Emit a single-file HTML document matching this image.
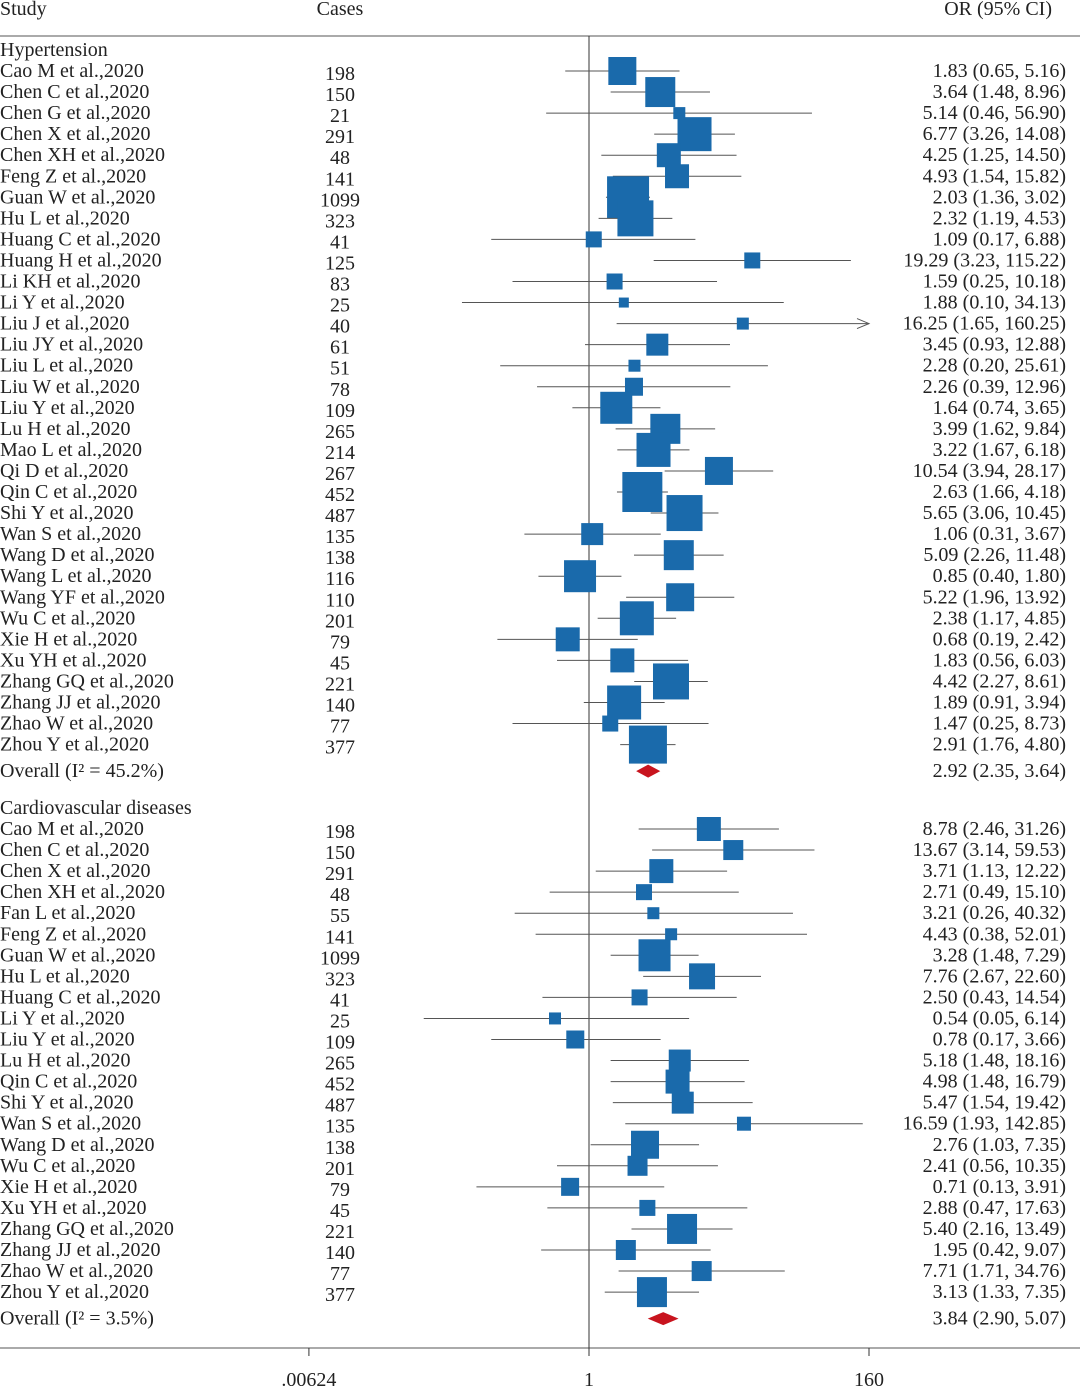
<!DOCTYPE html>
<html><head><meta charset="utf-8"><style>
body{margin:0;background:#fff}
svg text{font-family:"Liberation Serif",serif;font-size:20px;fill:#222}
</style></head><body>
<svg id="c" width="1080" height="1387"></svg>
<script>
const htStudies=["Cao M","Chen C","Chen G","Chen X","Chen XH","Feng Z","Guan W","Hu L","Huang C","Huang H","Li KH","Li Y","Liu J","Liu JY","Liu L","Liu W","Liu Y","Lu H","Mao L","Qi D","Qin C","Shi Y","Wan S","Wang D","Wang L","Wang YF","Wu C","Xie H","Xu YH","Zhang GQ","Zhang JJ","Zhao W","Zhou Y"];
const htCases=[198,150,21,291,48,141,1099,323,41,125,83,25,40,61,51,78,109,265,214,267,452,487,135,138,116,110,201,79,45,221,140,77,377];
const htOR=[1.83,3.64,5.14,6.77,4.25,4.93,2.03,2.32,1.09,19.29,1.59,1.88,16.25,3.45,2.28,2.26,1.64,3.99,3.22,10.54,2.63,5.65,1.06,5.09,0.85,5.22,2.38,0.68,1.83,4.42,1.89,1.47,2.91];
const htLo=[0.65,1.48,0.46,3.26,1.25,1.54,1.36,1.19,0.17,3.23,0.25,0.10,1.65,0.93,0.20,0.39,0.74,1.62,1.67,3.94,1.66,3.06,0.31,2.26,0.40,1.96,1.17,0.19,0.56,2.27,0.91,0.25,1.76];
const htHi=[5.16,8.96,56.90,14.08,14.50,15.82,3.02,4.53,6.88,115.22,10.18,34.13,160.25,12.88,25.61,12.96,3.65,9.84,6.18,28.17,4.18,10.45,3.67,11.48,1.80,13.92,4.85,2.42,6.03,8.61,3.94,8.73,4.80];
const htBox=[28,30,12,34,24,24,42,36,16,16,16,10,12,22,12,18,32,30,34,28,40,36,22,30,32,28,34,24,24,36,34,16,38];
const htOverall=[2.92,2.35,3.64];
const cvStudies=["Cao M","Chen C","Chen X","Chen XH","Fan L","Feng Z","Guan W","Hu L","Huang C","Li Y","Liu Y","Lu H","Qin C","Shi Y","Wan S","Wang D","Wu C","Xie H","Xu YH","Zhang GQ","Zhang JJ","Zhao W","Zhou Y"];
const cvCases=[198,150,291,48,55,141,1099,323,41,25,109,265,452,487,135,138,201,79,45,221,140,77,377];
const cvOR=[8.78,13.67,3.71,2.71,3.21,4.43,3.28,7.76,2.50,0.54,0.78,5.18,4.98,5.47,16.59,2.76,2.41,0.71,2.88,5.40,1.95,7.71,3.13];
const cvLo=[2.46,3.14,1.13,0.49,0.26,0.38,1.48,2.67,0.43,0.05,0.17,1.48,1.48,1.54,1.93,1.03,0.56,0.13,0.47,2.16,0.42,1.71,1.33];
const cvHi=[31.26,59.53,12.22,15.10,40.32,52.01,7.29,22.60,14.54,6.14,3.66,18.16,16.79,19.42,142.85,7.35,10.35,3.91,17.63,13.49,9.07,34.76,7.35];
const cvBox=[24,20,24,16,12,12,32,26,16,12,18,22,24,22,14,28,20,18,16,30,20,20,30];
const cvOverall=[3.84,2.90,5.07];
const ticks=[0.00624,1,160];
const tickLabels=[".00624","1","160"];

const svg=document.getElementById('c');
const NS="http://www.w3.org/2000/svg";
const X0=589,K=280/Math.log(160),XMAX=X0+Math.log(160)*K;
const xs=v=>X0+Math.log(v)*K;
function mk(t,a,name){const e=document.createElementNS(NS,t);for(const k in a)e.setAttribute(k,a[k]);


svg.appendChild(e);return e;}
function txt(s,x,y,anchor,name){const e=mk('text',{x:x,y:y,'text-anchor':anchor||'start'},name);e.textContent=s;return e;}
const f=v=>v.toFixed(2);

txt("Study",0,15,'start','study-header');
txt("Cases",340,15,'middle','cases-header');
txt("OR (95% CI)",1052,15,'end','or-header');
mk('line',{x1:0,y1:36,x2:1080,y2:36,stroke:'#555','stroke-width':1},'top-rule');
mk('line',{x1:0,y1:1348,x2:1080,y2:1348,stroke:'#555','stroke-width':1},'bottom-rule');
mk('line',{x1:X0,y1:36,x2:X0,y2:1348,stroke:'#333','stroke-width':1},'null-line');
ticks.forEach((t,i)=>{const x=xs(t);
mk('line',{x1:x,y1:1348,x2:x,y2:1356,stroke:'#333'},'x-tick');
txt(tickLabels[i],x,1386,'middle','x-tick-label');});

function group(title,hy,y0,st,cs,or,lo,hi,bx,ov,i2){
txt(title,0,hy+6,'start','subgroup-title');
st.forEach((s,i)=>{const y=y0+i*21.05;
txt(s+" et al.,2020",0,y+6,'start','study-label');
txt(String(cs[i]),340,y+9,'middle','cases-value');
txt(f(or[i])+" ("+f(lo[i])+", "+f(hi[i])+")",1066,y+6,'end','or-ci-text');
const xl=Math.max(xs(lo[i]),0),xh=Math.min(xs(hi[i]),XMAX);
mk('line',{x1:xl,y1:y,x2:xh,y2:y,stroke:'#555','stroke-width':1},'ci-line');
if(hi[i]>160){mk('path',{d:`M${XMAX-12} ${y-5} L${XMAX} ${y} L${XMAX-12} ${y+5}`,fill:'none',stroke:'#555'},'ci-arrow');}
const b=bx[i],cx=xs(or[i]);
mk('rect',{x:cx-b/2,y:y-b/2,width:b,height:b,fill:'#1a6aab'},'study-box');
});
const oy=y0+st.length*21.05+5.5;
txt("Overall (I² = "+i2+")",0,oy+6,'start','overall-label');
txt(f(ov[0])+" ("+f(ov[1])+", "+f(ov[2])+")",1066,oy+6,'end','overall-or-text');
mk('polygon',{points:`${xs(ov[1])},${oy} ${xs(ov[0])},${oy-6.5} ${xs(ov[2])},${oy} ${xs(ov[0])},${oy+6.5}`,fill:'#c8141e'},'overall-diamond');
}
group("Hypertension",50,71,htStudies,htCases,htOR,htLo,htHi,htBox,htOverall,"45.2%");
group("Cardiovascular diseases",808,829,cvStudies,cvCases,cvOR,cvLo,cvHi,cvBox,cvOverall,"3.5%");
</script>
</body></html>
